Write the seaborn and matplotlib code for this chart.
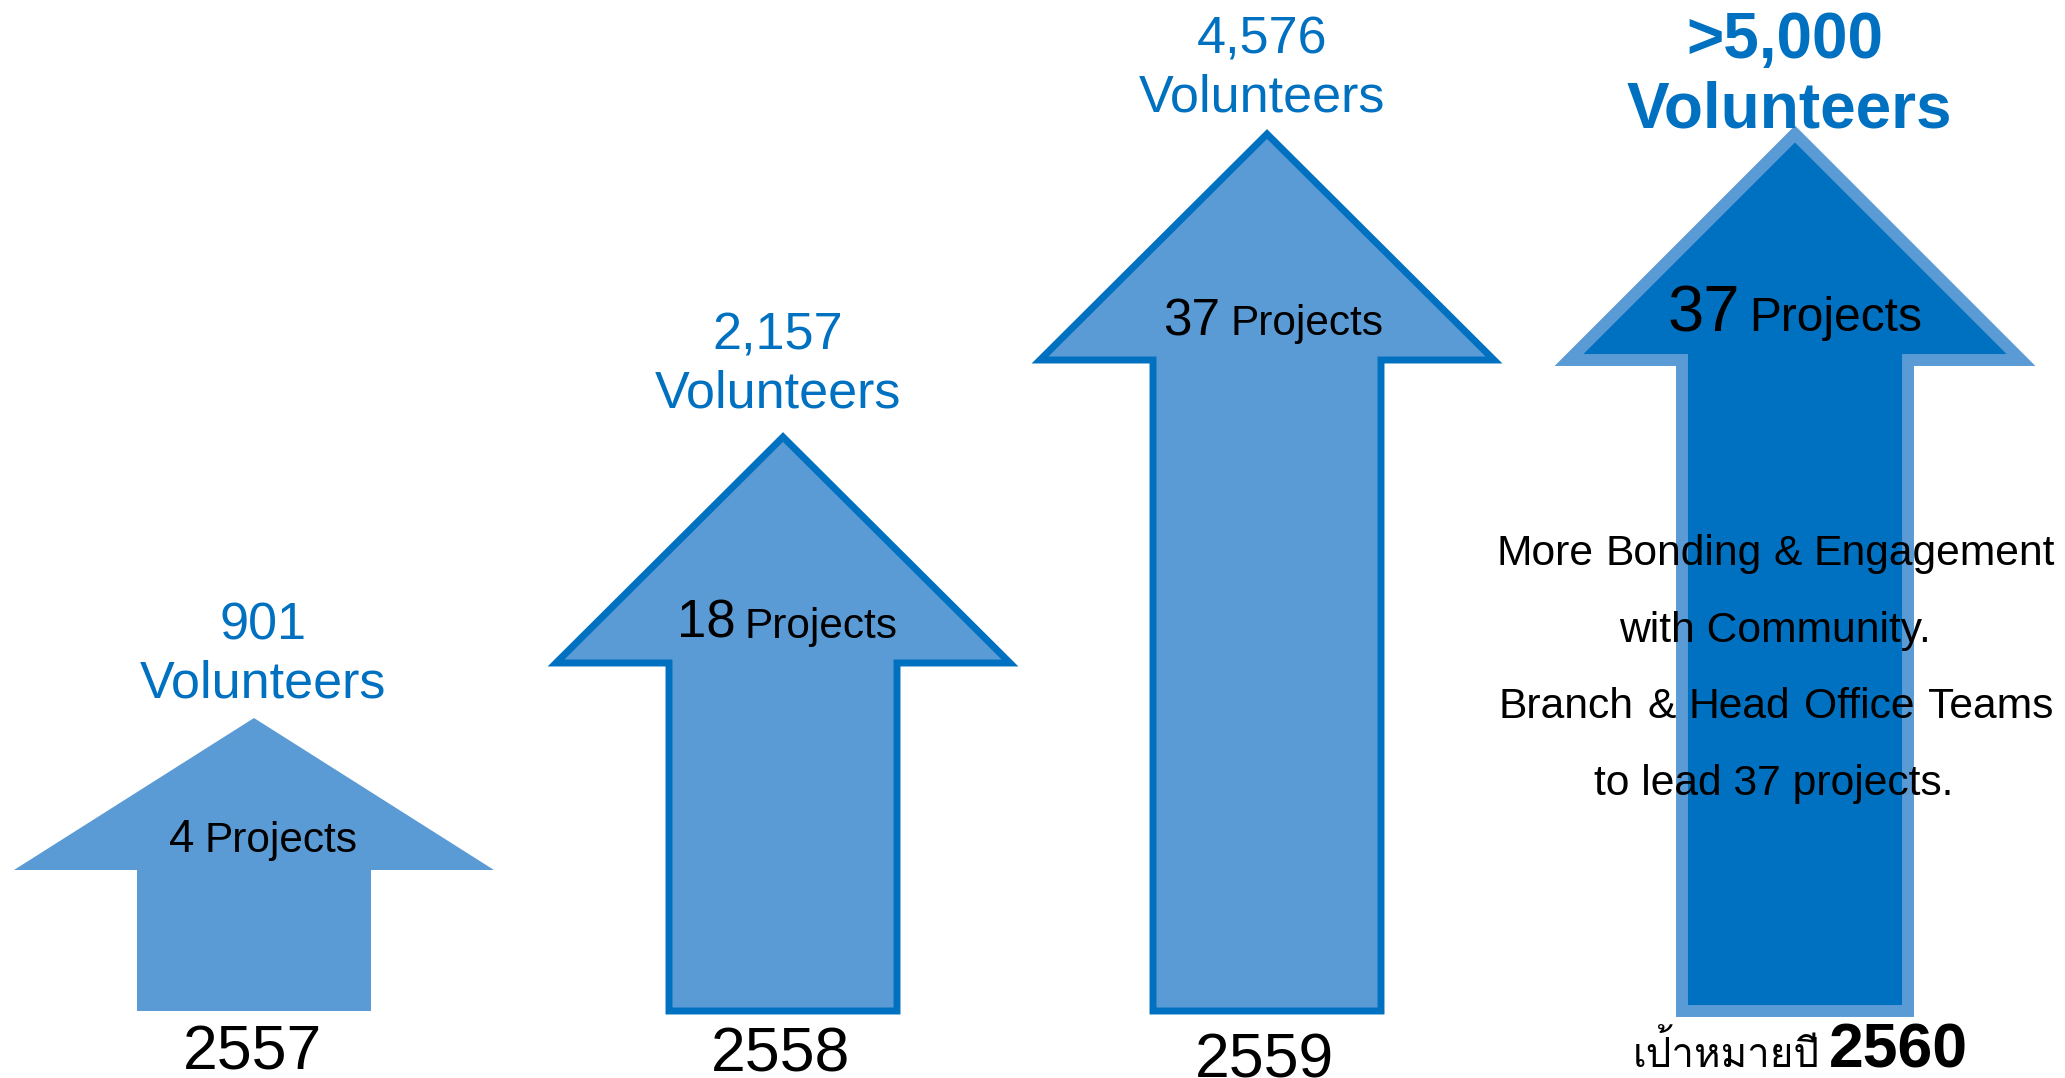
import numpy as np
import seaborn as sns
import matplotlib.pyplot as plt
from matplotlib import font_manager as fm
from matplotlib.ft2font import FT2Font

# data
years = ["2557", "2558", "2559", "2560"]
volunteers = ["901", "2,157", "4,576", ">5,000"]
projects = ["4", "18", "37", "37"]
arrow_top = [293, 574, 877, 877]  # drawn height of each arrow (display units)
target_prefix = "เป้าหมายปี"
target_note = ["More Bonding & Engagement", "with Community.",
               "Branch & Head Office Teams", "to lead 37 projects."]

# layout (1 unit = 1 px)
centers = [254, 783, 1267, 1795]
head_depth = [152, 226, 226, 226]
head_half = [240, 227, 227, 226]
shaft_half = [117, 114, 114, 113]

light = "#5B9BD5"
dark = "#0070C0"

sns.set_theme(style="white")
plt.rcParams['font.family'] = ['Liberation Sans', 'DejaVu Sans']

# look for anything that can draw Thai
thai_font = None
for f in fm.fontManager.ttflist:
    try:
        if 0x0E40 in FT2Font(f.fname).get_charmap():
            thai_font = f.name
            break
    except Exception:
        pass
thai_family = [thai_font, 'Liberation Sans'] if thai_font else ['Liberation Sans', 'DejaVu Sans']

fig = plt.figure(figsize=(20.65, 10.78), dpi=100)
ax = fig.add_axes([0, 0, 1, 1])
ax.set_xlim(0, 2065)
ax.set_ylim(-67, 1011)
ax.axis("off")


def arrow_xy(cx, top, depth, hh, sh):
    base = top - depth
    xs = [cx - sh, cx - sh, cx - hh, cx, cx + hh, cx + sh, cx + sh]
    ys = [0, base, base, top, base, base, 0]
    return xs, ys


styles = [
    dict(facecolor=light, edgecolor="none", linewidth=0),
    dict(facecolor=light, edgecolor=dark, linewidth=5),
    dict(facecolor=light, edgecolor=dark, linewidth=5),
    dict(facecolor=dark, edgecolor=light, linewidth=8.6),
]
for i in range(4):
    xs, ys = arrow_xy(centers[i], arrow_top[i], head_depth[i], head_half[i], shaft_half[i])
    ax.fill(xs, ys, joinstyle="miter", **styles[i])

# volunteer labels
vol_x = [263, 778, 1262, 1785]
vol_num_y = [371, 661, 958, 953]
vol_word_y = [313, 603, 899, 883]
for i in range(4):
    bold = i == 3
    size = 46 if bold else 37.5
    weight = "bold" if bold else "normal"
    ax.text(vol_x[i], vol_num_y[i], volunteers[i], ha="center", va="baseline",
            fontsize=size, color=dark, fontweight=weight)
    ax.text(vol_x[i] + (4 if bold else 0), vol_word_y[i], "Volunteers", ha="center",
            va="baseline", fontsize=size, color=dark, fontweight=weight)

# project counts inside the arrow heads
num_right = [195, 736, 1220, 1740]
word_left = [204, 744, 1231, 1749]
proj_y = [159, 373, 676, 680]
num_size = [33, 38, 37, 47]
word_size = [30.5, 30.5, 30.5, 34.5]
for i in range(4):
    ax.text(num_right[i], proj_y[i], projects[i], ha="right", va="baseline",
            fontsize=num_size[i], color="black")
    ax.text(word_left[i], proj_y[i], "Projects", ha="left", va="baseline",
            fontsize=word_size[i], color="black")

# year labels
year_x = [252, 781, 1264]
year_y = [-59, -61, -66]
for i in range(3):
    ax.text(year_x[i], year_y[i], years[i], ha="center", va="baseline",
            fontsize=45, color="black")
ax.text(1820, -56, target_prefix, ha="right", va="baseline", fontsize=29,
        color="black", family=thai_family)
ax.text(1829, -56, years[3], ha="left", va="baseline", fontsize=45,
        color="black", fontweight="bold")

# note over the last arrow, lines 1 and 3 justified
renderer = fig.canvas.get_renderer()
note_y = [446, 369, 293, 216]
spans = [(1497, 2055), None, (1499, 2053), None]
note_cx = [1776, 1775, 1776, 1774]
for line, y, span, cx in zip(target_note, note_y, spans, note_cx):
    if span is None:
        ax.text(cx, y, line, ha="center", va="baseline", fontsize=30.7, color="black")
        continue
    words = line.split()
    arts = [ax.text(0, y, w, ha="left", va="baseline", fontsize=30.7, color="black")
            for w in words]
    widths = [a.get_window_extent(renderer).width for a in arts]
    gap = (span[1] - span[0] - sum(widths)) / (len(words) - 1)
    x = span[0]
    for a, w in zip(arts, widths):
        a.set_x(x)
        x += w + gap

fig.savefig("out.png", dpi=100)
